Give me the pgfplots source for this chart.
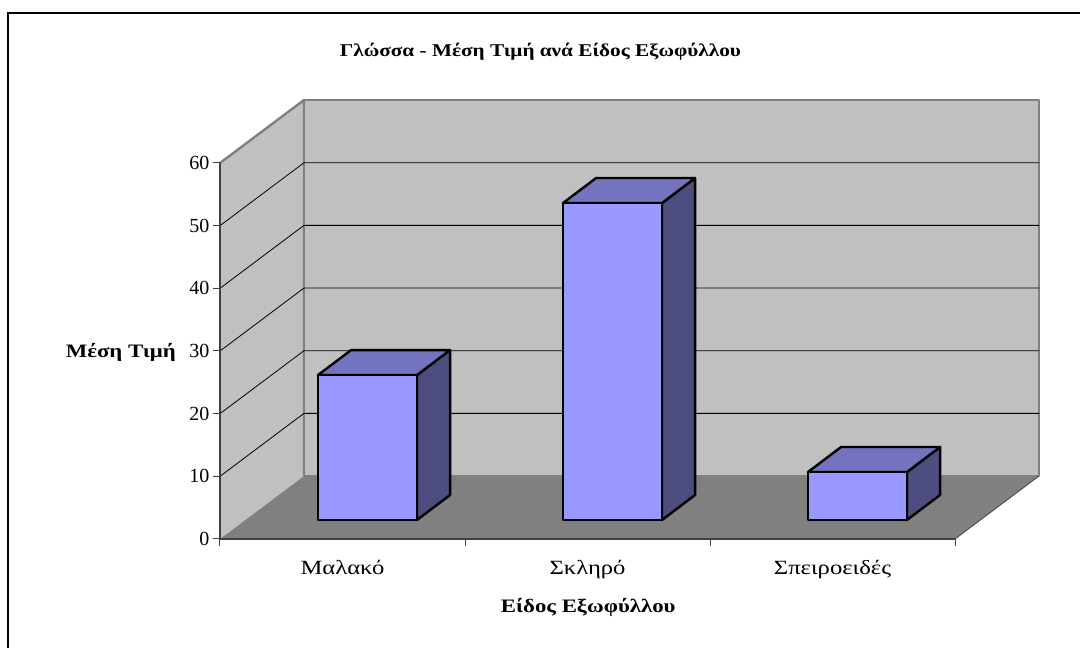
\documentclass[border=0pt]{standalone}
\usepackage{fontspec}
\setmainfont{Liberation Serif}
\newfontfamily\widefont[FakeStretch=1.22]{Liberation Serif}
\newfontfamily\widebold[FakeStretch=1.2,BoldFont={Liberation Serif Bold}]{Liberation Serif}
\newfontfamily\widetitle[FakeStretch=1.18,BoldFont={Liberation Serif Bold}]{Liberation Serif}
\usepackage{pgfplots}
\pgfplotsset{compat=1.18}
\definecolor{wall}{HTML}{C0C0C0}
\definecolor{wallline}{HTML}{808080}
\definecolor{floorc}{HTML}{808080}
\definecolor{barfront}{HTML}{9999FF}
\definecolor{bartop}{HTML}{7373BF}
\definecolor{barside}{HTML}{4D4D80}
\definecolor{axisline}{HTML}{404040}
\newcommand{\catsize}{\fontsize{20.2}{22}\widefont}
\newcommand{\labsize}{\fontsize{19}{21}\widebold\bfseries}
\newcommand{\titlesize}{\fontsize{18}{20}\widetitle\bfseries}

\begin{document}
\begin{tikzpicture}[x=1pt,y=1pt]
  \useasboundingbox (0,0) rectangle (1080,648);
  \draw[black,line width=2pt] (8,0) -- (8,634.5) -- (1080,634.5);
  \begin{axis}[
    scale only axis,
    width=735pt,
    height=376pt,
    at={(220pt,109pt)},
    anchor=south west,
    clip=false,
    axis on top,
    xmin=0, xmax=3,
    ymin=0, ymax=60,
    axis x line*=bottom,
    axis y line*=left,
    axis line style={-,axisline,line width=1.2pt},
    tick align=outside,
    tick style={axisline,line width=1pt},
    xtick={0,1,2,3},
    xticklabels={},
    extra x ticks={0.5,1.5,2.5},
    extra x tick labels={Μαλακό,Σκληρό,Σπειροειδές},
    extra x tick style={major tick length=0pt,
      tick label style={font=\catsize,yshift=-18pt}},
    ytick={0,10,...,60},
    major tick length=7pt,
    y tick label style={font=\fontsize{20}{22}\selectfont},
    /pgf/number format/assume math mode=true,
    xlabel={\labsize Είδος Εξωφύλλου},
    xlabel style={at={(axis description cs:0.501,-0.181)},anchor=center},
    ylabel={\labsize Μέση Τιμή},
    ylabel style={rotate=-90,at={(axis description cs:-0.135,0.495)},anchor=center},
    title={\titlesize Γλώσσα - Μέση Τιμή ανά Είδος Εξωφύλλου},
    title style={at={(axis description cs:0.436,1.279)},anchor=center},
  ]
    % walls and floor
    \addplot[fill=wall,draw=none] coordinates {(0,0) (0,60) (0.343,70.05) (0.343,10.05)} -- cycle;
    \addplot[wallline,line width=2.4pt,line join=round] coordinates {(0,60) (0.343,70.05) (0.343,10.05)};
    \addplot[fill=wall,draw=wallline,line width=2.6pt,line join=round] coordinates {(0.343,10.05) (0.343,70.05) (3.343,70.05) (3.343,10.05)} -- cycle;
    \addplot[fill=floorc,draw=none] coordinates {(0,0) (3,0) (3.343,10.05) (0.343,10.05)} -- cycle;
    \addplot[axisline,line width=0.8pt] coordinates {(3,0) (3.343,10.05)};
    % gridlines
    \addplot[black,line width=0.8pt] coordinates {(0,10) (0.343,20.05) (3.343,20.05)};
    \addplot[black,line width=0.8pt] coordinates {(0,20) (0.343,30.05) (3.343,30.05)};
    \addplot[black,line width=0.8pt] coordinates {(0,30) (0.343,40.05) (3.343,40.05)};
    \addplot[black,line width=0.8pt] coordinates {(0,40) (0.343,50.05) (3.343,50.05)};
    \addplot[black,line width=0.8pt] coordinates {(0,50) (0.343,60.05) (3.343,60.05)};
    % Malako
    \addplot[fill=barside,draw=black,line width=2.4pt,line join=round] coordinates {(0.804,3.03) (0.939,7.02) (0.939,30.15) (0.804,26.16)} -- cycle;
    \addplot[fill=bartop,draw=black,line width=2.4pt,line join=round] coordinates {(0.400,26.16) (0.804,26.16) (0.939,30.15) (0.535,30.15)} -- cycle;
    \addplot[fill=barfront,draw=black,line width=2.4pt,line join=round] coordinates {(0.400,3.03) (0.804,3.03) (0.804,26.16) (0.400,26.16)} -- cycle;
    % Skliro
    \addplot[fill=barside,draw=black,line width=2.4pt,line join=round] coordinates {(1.804,3.03) (1.939,7.02) (1.939,57.60) (1.804,53.61)} -- cycle;
    \addplot[fill=bartop,draw=black,line width=2.4pt,line join=round] coordinates {(1.400,53.61) (1.804,53.61) (1.939,57.60) (1.535,57.60)} -- cycle;
    \addplot[fill=barfront,draw=black,line width=2.4pt,line join=round] coordinates {(1.400,3.03) (1.804,3.03) (1.804,53.61) (1.400,53.61)} -- cycle;
    % Speiroeides
    \addplot[fill=barside,draw=black,line width=2.4pt,line join=round] coordinates {(2.804,3.03) (2.939,7.02) (2.939,14.68) (2.804,10.69)} -- cycle;
    \addplot[fill=bartop,draw=black,line width=2.4pt,line join=round] coordinates {(2.400,10.69) (2.804,10.69) (2.939,14.68) (2.535,14.68)} -- cycle;
    \addplot[fill=barfront,draw=black,line width=2.4pt,line join=round] coordinates {(2.400,3.03) (2.804,3.03) (2.804,10.69) (2.400,10.69)} -- cycle;
  \end{axis}
\end{tikzpicture}
\end{document}
